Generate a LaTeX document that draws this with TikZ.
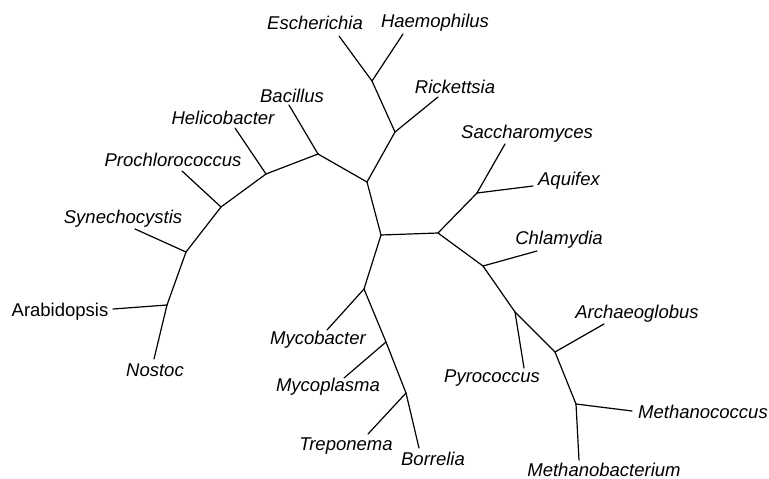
\documentclass[tikz,border=0pt]{standalone}
\usepackage{fontspec}
\setmainfont{Liberation Sans}
\usepackage{tikz}
\usetikzlibrary{positioning}
\tikzset{
  branch/.style={line width=1.2pt, draw=black, line cap=round, line join=round},
  taxon/.style={font=\fontsize{18.5}{22}\selectfont\itshape, inner sep=0pt},
  taxonup/.style={taxon, font=\fontsize{18.5}{22}\selectfont\upshape},
}

\begin{document}
\begin{tikzpicture}[x=1pt, y=-1pt]
        \useasboundingbox (0,0) rectangle (769,479);
        % inner branch points
        \coordinate (c1) at (381,235); \coordinate (c2) at (438,233);
        \coordinate (u1) at (367,182); \coordinate (u2) at (395,132); \coordinate (u3) at (372,81);
        \coordinate (l1) at (318,154); \coordinate (l2) at (266,174); \coordinate (l3) at (221,207);
        \coordinate (l4) at (186,252); \coordinate (l5) at (167,305);
        \coordinate (d1) at (364,289); \coordinate (d2) at (386,342); \coordinate (d3) at (406,393);
        \coordinate (r1) at (477,193); \coordinate (r2) at (483,266); \coordinate (r3) at (515,312);
        \coordinate (r4) at (555,352); \coordinate (r5) at (576,404);
        % leaf tips
        \coordinate (esch) at (339,36); \coordinate (haem) at (403,34); \coordinate (rick) at (438,97);
        \coordinate (baci) at (289,105); \coordinate (heli) at (235,128); \coordinate (proc) at (182,171);
        \coordinate (syne) at (135,229); \coordinate (arab) at (113,309); \coordinate (nost) at (154,359);
        \coordinate (mycb) at (327,330); \coordinate (mycp) at (344,378); \coordinate (trep) at (368,434);
        \coordinate (borr) at (419,448); \coordinate (sacc) at (505,144); \coordinate (aqui) at (533,186);
        \coordinate (chla) at (537,251); \coordinate (pyro) at (524,368); \coordinate (arch) at (604,324);
        \coordinate (mcoc) at (632,411); \coordinate (mbac) at (579,460);
        % branches
        \foreach \a/\b in {c1/c2, c1/u1, c1/d1, c2/r1, c2/r2, u1/l1, u1/u2, u2/u3, u2/rick, u3/esch, u3/haem,
            l1/baci, l1/l2, l2/heli, l2/l3, l3/proc, l3/l4, l4/syne, l4/l5, l5/arab, l5/nost,
            d1/mycb, d1/d2, d2/mycp, d2/d3, d3/trep, d3/borr, r1/sacc, r1/aqui, r2/chla, r2/r3,
            r3/pyro, r3/r4, r4/arch, r4/r5, r5/mcoc, r5/mbac}{ \draw[branch] (\a) -- (\b); }
        % taxon names
        \node[taxon] (tesch) at (315,23) {Escherichia};
        \node[taxon] (thaem) at (435,23) {Haemophilus};
        \node[taxon] (trick) at (455,87) {Rickettsia};
        \node[taxon] (tbaci) at (292,96) {Bacillus};
        \node[taxon] (theli) at (223,118) {Helicobacter};
        \node[taxon] (tproc) at (173,160) {Prochlorococcus};
        \node[taxon] (tsyne) at (123,219) {Synechocystis};
        \node[taxonup] (tarab) at (60,312) {Arabidopsis};
        \node[taxon] (tnost) at (155,370) {Nostoc};
        \node[taxon] (tmycb) at (318,340) {Mycobacter};
        \node[taxon] (tmycp) at (328,387) {Mycoplasma};
        \node[taxon] (ttrep) at (346,446) {Treponema};
        \node[taxon] (tborr) at (433,459) {Borrelia};
        \node[taxon] (tsacc) at (527,134) {Saccharomyces};
        \node[taxon] (taqui) at (569,181) {Aquifex};
        \node[taxon] (tchla) at (559,240) {Chlamydia};
        \node[taxon] (tpyro) at (492,378) {Pyrococcus};
        \node[taxon] (tarch) at (637,314) {Archaeoglobus};
        \node[taxon] (tmcoc) at (703,412) {Methanococcus};
        \node[taxon] (tmbac) at (604,470) {Methanobacterium};
      \end{tikzpicture}
\end{document}
